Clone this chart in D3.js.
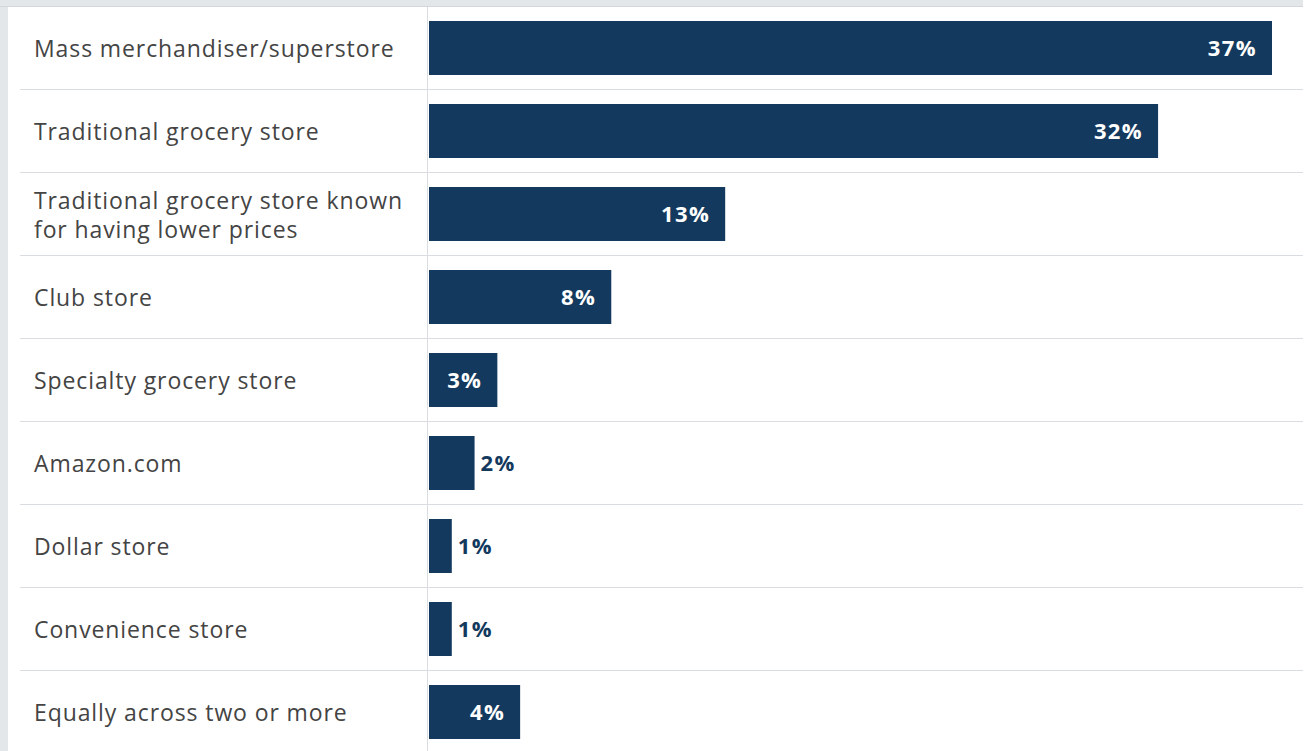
<!DOCTYPE html>
<html>
<head>
<meta charset="utf-8">
<script src="https://cdn.jsdelivr.net/npm/d3@7"></script>
<style>
  html, body { margin: 0; padding: 0; background: #ffffff; }
  svg { display: block; }
</style>
</head>
<body>
<svg id="chart" width="1306" height="751"></svg>
<script>
// ---- data ----
const categories = [
  "Mass merchandiser/superstore",
  "Traditional grocery store",
  "Traditional grocery store known for having lower prices",
  "Club store",
  "Specialty grocery store",
  "Amazon.com",
  "Dollar store",
  "Convenience store",
  "Equally across two or more"
];
const labelLines = [
  ["Mass merchandiser/superstore"],
  ["Traditional grocery store"],
  ["Traditional grocery store known", "for having lower prices"],
  ["Club store"],
  ["Specialty grocery store"],
  ["Amazon.com"],
  ["Dollar store"],
  ["Convenience store"],
  ["Equally across two or more"]
];
const values = [37, 32, 13, 8, 3, 2, 1, 1, 4];
const valueLabels = ["37%", "32%", "13%", "8%", "3%", "2%", "1%", "1%", "4%"];

// ---- layout ----
const W = 1306, H = 751;
const panelLeft = 8, panelTop = 7, panelRight = 1303;
const axisX = 429;
const barColor = "#133a5e";
const textColor = "#444444";
const lineColor = "#d9dde1";

const svg = d3.select("#chart");

// background frame
svg.append("rect").attr("x", 0).attr("y", 0).attr("width", panelRight).attr("height", H).attr("fill", "#e4e7e9");
svg.append("rect").attr("x", panelLeft).attr("y", panelTop).attr("width", panelRight - panelLeft).attr("height", H - panelTop).attr("fill", "#ffffff");
svg.append("line").attr("x1", 0).attr("x2", panelRight).attr("y1", 6.5).attr("y2", 6.5).attr("stroke", "#d3d7db");

const x = d3.scaleLinear().domain([0, 37]).range([axisX, 1272]);
const y = d3.scaleBand().domain(categories).range([6.5, 753.5]).paddingInner(0).paddingOuter(0);
const barH = 54;

const data = categories.map((c, i) => ({ cat: c, value: values[i], label: valueLabels[i], lines: labelLines[i] }));

// row separators
svg.append("g").selectAll("line")
  .data(categories.slice(1))
  .join("line")
  .attr("x1", 20).attr("x2", panelRight)
  .attr("y1", d => y(d)).attr("y2", d => y(d))
  .attr("stroke", lineColor).attr("stroke-width", 1);

// vertical axis line
svg.append("line")
  .attr("x1", axisX - 1.5).attr("x2", axisX - 1.5)
  .attr("y1", panelTop).attr("y2", H)
  .attr("stroke", lineColor).attr("stroke-width", 1);

// bars
svg.append("g").selectAll("rect")
  .data(data)
  .join("rect")
  .attr("x", x(0))
  .attr("y", d => y(d.cat) + (y.bandwidth() - barH) / 2)
  .attr("width", d => x(d.value) - x(0))
  .attr("height", barH)
  .attr("fill", barColor);

// category labels
const lineGap = 29;
const labels = svg.append("g").selectAll("text")
  .data(data)
  .join("text")
  .attr("x", 34)
  .attr("font-family", "'Open Sans', sans-serif")
  .attr("font-size", 23)
  .attr("letter-spacing", 0.9)
  .attr("fill", textColor);
labels.each(function(d) {
  const t = d3.select(this);
  const cy = y(d.cat) + y.bandwidth() / 2;
  const n = d.lines.length;
  d.lines.forEach((ln, k) => {
    t.append("tspan")
      .attr("x", 34)
      .attr("y", cy + (k - (n - 1) / 2) * lineGap)
      .attr("dominant-baseline", "central")
      .text(ln);
  });
});

// value labels
const insideMin = 3;
svg.append("g").selectAll("text")
  .data(data)
  .join("text")
  .attr("x", d => d.value >= insideMin ? x(d.value) - 15 : x(d.value) + 6)
  .attr("y", d => y(d.cat) + y.bandwidth() / 2 - 1)
  .attr("dominant-baseline", "central")
  .attr("text-anchor", d => d.value >= insideMin ? "end" : "start")
  .attr("font-family", "'Open Sans', sans-serif")
  .attr("font-weight", 700)
  .attr("font-size", 22)
  .attr("letter-spacing", 1.4)
  .attr("fill", d => d.value >= insideMin ? "#ffffff" : barColor)
  .text(d => d.label);
</script>
</body>
</html>
